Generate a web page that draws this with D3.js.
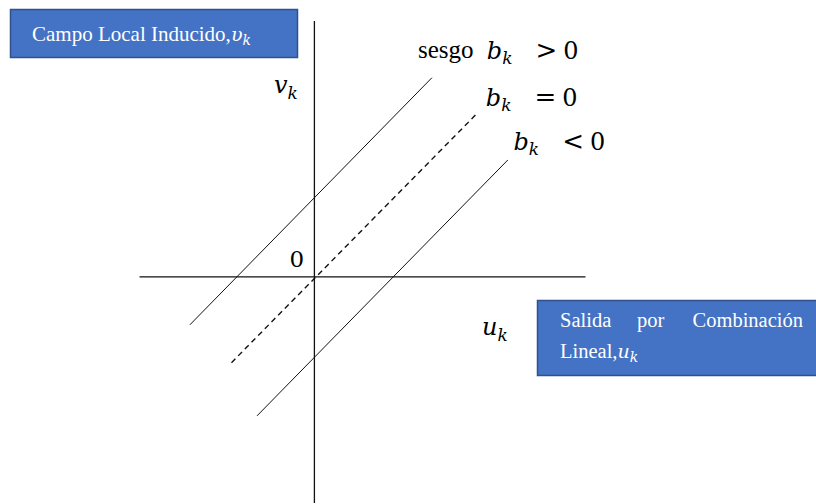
<!DOCTYPE html>
<html>
<head>
<meta charset="utf-8">
<script src="https://cdn.jsdelivr.net/npm/d3@7"></script>
<style>
  body { margin: 0; background: #fff; }
  .math { font-family: "DejaVu Serif", serif; font-style: italic; }
  .serif { font-family: "Liberation Serif", "Times New Roman", serif; }
</style>
</head>
<body>
<div id="chart"></div>
<script>
// lines of v = u + b, endpoints in chart units (u, v)
const lineNames = ["pos", "zero", "neg"];
const lineStart = [[-3.56, -1.37], [-2.37, -2.45], [-1.64, -3.97]];
const lineEnd = [[3.36, 5.69], [4.67, 4.69], [5.53, 3.34]];
const lineDashed = [false, true, false];
const labelOps = [">", "=", "<"];
const labelAt = [[4.93, 6.23], [4.9, 4.89], [5.69, 3.63]];

const uDomain = [-5, 7.75];
const vDomain = [-6.46, 7.31];

const W = 816, H = 504;
const x = d3.scaleLinear().domain(uDomain).range([139.5, 585.5]);
const y = d3.scaleLinear().domain(vDomain).range([503, 21]);

const svg = d3
  .select("#chart")
  .append("svg")
  .attr("width", W)
  .attr("height", H);

svg.append("rect").attr("width", W).attr("height", H).attr("fill", "#fff");

// axes
svg
  .append("line")
  .attr("x1", x(uDomain[0]))
  .attr("x2", x(uDomain[1]))
  .attr("y1", y(0))
  .attr("y2", y(0))
  .attr("stroke", "#111")
  .attr("stroke-width", 1.3);

svg
  .append("line")
  .attr("x1", x(0))
  .attr("x2", x(0))
  .attr("y1", y(vDomain[1]))
  .attr("y2", y(vDomain[0]))
  .attr("stroke", "#111")
  .attr("stroke-width", 1.3);

// bias lines
const lines = lineNames.map((n, i) => ({
  name: n,
  a: lineStart[i],
  b: lineEnd[i],
  dashed: lineDashed[i],
}));

svg
  .selectAll(".bias")
  .data(lines)
  .enter()
  .append("line")
  .attr("class", "bias")
  .attr("x1", (d) => x(d.a[0]))
  .attr("y1", (d) => y(d.a[1]))
  .attr("x2", (d) => x(d.b[0]))
  .attr("y2", (d) => y(d.b[1]))
  .attr("stroke", "#111")
  .attr("stroke-width", (d) => (d.dashed ? 1.4 : 1))
  .attr("stroke-dasharray", (d) => (d.dashed ? "5.5,4" : null));

// b_k labels
labelOps.forEach((op, i) => {
  const t = svg
    .append("text")
    .attr("class", "math")
    .attr("x", x(labelAt[i][0]))
    .attr("y", y(labelAt[i][1]))
    .style("font-size", "24px")
    .attr("fill", "#000");
  t.append("tspan").text("b");
  t.append("tspan").attr("dy", 5).style("font-size", "17px").text("k");
  t.append("tspan")
    .attr("dy", -5)
    .attr("dx", 23)
    .style("font-style", "normal")
    .style("font-size", "26px")
    .text(op);
  t.append("tspan")
    .attr("dx", 6)
    .style("font-style", "normal")
    .text("0");
});

svg
  .append("text")
  .attr("class", "serif")
  .attr("x", 418)
  .attr("y", 58)
  .style("font-size", "25px")
  .text("sesgo");

// axis names
function subLabel(px, py, base) {
  const t = svg
    .append("text")
    .attr("class", "math")
    .attr("x", px)
    .attr("y", py)
    .style("font-size", "24px");
  t.append("tspan").text(base);
  t.append("tspan").attr("dy", 6).style("font-size", "17px").text("k");
}
subLabel(274, 93, "v");
subLabel(482, 335, "u");

svg
  .append("text")
  .attr("class", "math")
  .style("font-style", "normal")
  .attr("x", x(0) - 25)
  .attr("y", y(0) - 10)
  .style("font-size", "23px")
  .text("0");

// boxes
function box(bx, by, bw, bh) {
  svg
    .append("rect")
    .attr("x", bx)
    .attr("y", by)
    .attr("width", bw)
    .attr("height", bh)
    .attr("fill", "#4472C4")
    .attr("stroke", "#2F528F")
    .attr("stroke-width", 1.5);
}

box(10.5, 9.5, 287, 48);
const t1 = svg
  .append("text")
  .attr("class", "serif")
  .attr("x", 32)
  .attr("y", 41)
  .attr("fill", "#fff")
  .style("font-size", "21px");
t1.append("tspan").text("Campo Local Inducido,");
t1.append("tspan").attr("class", "math").style("font-size", "19px").text("υ");
t1.append("tspan").attr("class", "math").attr("dy", 4).style("font-size", "14px").text("k");

box(537.5, 300.5, 290, 75);
const words = [["Salida", 560, "start"], ["por", 637, "start"], ["Combinación", 803, "end"]];
words.forEach((w) => {
  svg
    .append("text")
    .attr("class", "serif")
    .attr("x", w[1])
    .attr("y", 327)
    .attr("text-anchor", w[2])
    .attr("fill", "#fff")
    .style("font-size", "20.5px")
    .text(w[0]);
});
const t2 = svg
  .append("text")
  .attr("class", "serif")
  .attr("x", 560)
  .attr("y", 358)
  .attr("fill", "#fff")
  .style("font-size", "20.5px");
t2.append("tspan").text("Lineal,");
t2.append("tspan").attr("class", "math").style("font-size", "19px").text("u");
t2.append("tspan").attr("class", "math").attr("dy", 4).style("font-size", "14px").text("k");
</script>
</body>
</html>
